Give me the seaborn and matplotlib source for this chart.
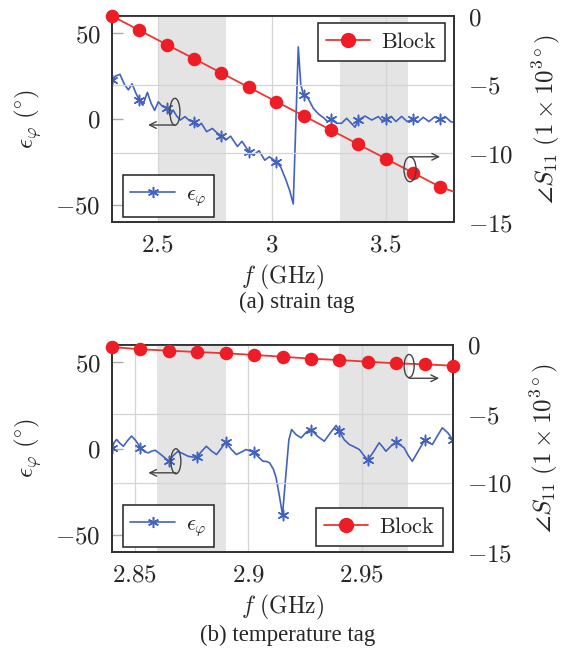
import numpy as np
import pandas as pd
import matplotlib
matplotlib.use("Agg")
import matplotlib.pyplot as plt
import seaborn as sns
from matplotlib.patches import Ellipse
from matplotlib.lines import Line2D
from matplotlib.ticker import FuncFormatter

# ---------------- data ----------------
# (a) strain tag : epsilon_phi (deg) vs f (GHz)
strain_f = [2.300, 2.315, 2.335, 2.355, 2.372, 2.388, 2.405, 2.420, 2.435, 2.455,
            2.472, 2.487, 2.503, 2.520, 2.540, 2.555, 2.568, 2.585, 2.600, 2.620,
            2.640, 2.660, 2.675, 2.692, 2.715, 2.740, 2.760, 2.780, 2.800, 2.820,
            2.850, 2.870, 2.900, 2.920, 2.945, 2.970, 2.990, 3.020, 3.040, 3.063,
            3.080, 3.095, 3.117, 3.128, 3.140, 3.160, 3.183, 3.205, 3.230, 3.245,
            3.260, 3.285, 3.307, 3.329, 3.366, 3.380, 3.410, 3.439, 3.468, 3.485,
            3.500, 3.525, 3.545, 3.570, 3.595, 3.620, 3.640, 3.665, 3.690, 3.715,
            3.740, 3.765, 3.785, 3.800]
strain_eps = [22.5, 25.0, 26.0, 20.0, 17.0, 20.5, 15.0, 11.0, 8.0, 15.5,
              9.0, 5.0, 10.0, 7.5, 6.2, 2.3, 5.2, 1.5, -0.6, 1.4,
              -1.0, -1.6, -4.5, -2.5, -7.4, -5.5, -8.0, -9.9, -12.2, -10.0,
              -16.0, -13.0, -19.0, -21.0, -18.5, -24.0, -22.0, -24.8, -28.0, -35.5,
              -42.0, -49.5, 42.0, 20.0, 14.0, 12.0, 6.2, 3.0, 0.5, -1.5,
              -0.2, -2.5, -2.5, 0.4, -4.8, -0.6, 1.7, -0.6, 1.4, -1.0,
              -0.2, 1.5, -1.5, 1.5, -1.5, -0.2, -2.0, 1.0, -1.5, 1.2,
              -0.2, 1.0, -1.5, -2.0]
strain_eps_marks = [2.30, 2.42, 2.54, 2.66, 2.78, 2.90, 3.02, 3.14, 3.26, 3.38, 3.50, 3.62, 3.74]
# angle S11 (x 1e3 deg), block reference
strain_block_f = [2.30, 2.42, 2.54, 2.66, 2.78, 2.90, 3.02, 3.14, 3.26, 3.38, 3.50, 3.62, 3.74, 3.80]
strain_block = [0.0, -1.04, -2.08, -3.11, -4.15, -5.19, -6.23, -7.26, -8.30, -9.34,
                -10.38, -11.41, -12.45, -12.8]
strain_bands = [(2.5, 2.8), (3.3, 3.6)]

# (b) temperature tag
temp_f = [2.8400, 2.8410, 2.8420, 2.8435, 2.8450, 2.8468, 2.8486, 2.8505, 2.8525, 2.8545,
          2.8560, 2.8575, 2.8590, 2.8605, 2.8620, 2.8650, 2.8670, 2.8690, 2.8712, 2.8735,
          2.8755, 2.8775, 2.8795, 2.8815, 2.8838, 2.8860, 2.8880, 2.8900, 2.8925, 2.8947,
          2.8970, 2.8990, 2.9025, 2.9045, 2.9064, 2.9080, 2.9093, 2.9110, 2.9122, 2.9137,
          2.9150, 2.9165, 2.9178, 2.9190, 2.9210, 2.9232, 2.9255, 2.9275, 2.9305, 2.9334,
          2.9360, 2.9386, 2.9400, 2.9422, 2.9444, 2.9465, 2.9488, 2.9508, 2.9525, 2.9550,
          2.9575, 2.9590, 2.9605, 2.9628, 2.9650, 2.9685, 2.9703, 2.9721, 2.9736, 2.9751,
          2.9775, 2.9792, 2.9809, 2.9830, 2.9853, 2.9878, 2.9900]
temp_eps = [0.4, 3.5, 5.2, 3.0, 1.3, 4.5, 7.2, 4.5, 0.4, -2.0,
            -2.5, -1.5, -1.0, -2.5, -4.0, -7.4, -4.0, -1.6, -3.0, -4.5,
            -5.0, -4.8, -1.5, 1.3, -1.5, -3.5, 0.0, 3.7, -0.5, -3.5,
            -2.0, -0.6, -2.2, -5.0, -7.4, -7.5, -8.3, -12.0, -17.0, -28.0,
            -38.4, -15.0, 5.0, 11.0, 8.0, 6.2, 9.5, 11.0, 7.0, 4.2,
            9.0, 13.4, 10.0, 5.0, 2.3, 1.0, -0.6, -4.0, -6.8, -2.0,
            3.3, 1.0, -1.6, 1.5, 3.7, 0.4, -4.0, -7.4, -4.0, -0.6,
            4.8, 3.5, 2.3, 7.0, 12.0, 9.0, 4.8]
temp_eps_marks = [2.84, 2.8525, 2.865, 2.8775, 2.89, 2.9025, 2.915, 2.9275, 2.94,
                  2.9525, 2.965, 2.9775, 2.99]
temp_block_f = [2.84, 2.8525, 2.865, 2.8775, 2.89, 2.9025, 2.915, 2.9275, 2.94,
                2.9525, 2.965, 2.9775, 2.99]
temp_block = [-0.15, -0.31, -0.41, -0.51, -0.60, -0.72, -0.85, -0.99, -1.09,
              -1.21, -1.33, -1.40, -1.50]
temp_bands = [(2.86, 2.89), (2.94, 2.97)]

# ---------------- style ----------------
sns.set_theme(style="white")
plt.rcParams["font.family"] = ["DejaVu Serif"]
plt.rcParams["mathtext.fontset"] = "cm"

BLUE = "#4262c0"
RED_LINE = "#f03434"
RED_MARK = "#ee1c25"
FRAME = "#333333"
GRID = "#d4d4d4"
SHADE = "#e4e4e4"
TICKFS = 18

fig = plt.figure(figsize=(5.65, 6.55), dpi=100)
W, H = 565, 655


def mathfmt(v, pos):
    return "$%g$" % v


def panel(rect_px, f, eps, eps_marks, bf, block, nblock_marks, bands, xlim, xticks,
          caption, cap_xy, eps_leg_anchor, block_leg_loc, block_leg_anchor, ell_left, ell_right,
          xlab_y):
    x0, y0, x1, y1 = rect_px
    ax1 = fig.add_axes([x0 / W, 1 - y1 / H, (x1 - x0) / W, (y1 - y0) / H])
    ax2 = ax1.twinx()
    ax2.patch.set_visible(False)

    for a, b in bands:
        ax1.axvspan(a, b, color=SHADE, lw=0, zorder=0)

    df = pd.DataFrame({"f": f, "eps": eps})
    sns.lineplot(data=df, x="f", y="eps", ax=ax1, color=BLUE, lw=1.2,
                 sort=False, estimator=None, zorder=3)
    fm = np.array(f)
    mask = np.zeros(len(f), bool)
    for m in eps_marks:
        mask |= np.isclose(fm, m, atol=1e-4)
    dm = df[mask]
    sns.scatterplot(data=dm, x="f", y="eps", ax=ax1, marker=(6, 2, 0), s=55,
                    color=BLUE, edgecolor=BLUE, linewidth=1.1, zorder=4)

    dfb = pd.DataFrame({"f": bf, "block": block})
    sns.lineplot(data=dfb, x="f", y="block", ax=ax2, color=RED_LINE, lw=1.3,
                 sort=False, estimator=None, zorder=3)
    sns.scatterplot(data=dfb.iloc[:nblock_marks], x="f", y="block", ax=ax2, s=95,
                    color=RED_MARK, edgecolor=RED_MARK, linewidth=0, zorder=4, clip_on=False)

    ax1.set_xlim(*xlim)
    ax1.set_ylim(-60, 60)
    ax2.set_ylim(-15, 0)
    ax1.set_xticks(xticks)
    ax1.set_yticks([-50, 0, 50])
    ax2.set_yticks([-15, -10, -5, 0])
    for a in (ax1, ax2):
        a.xaxis.set_major_formatter(FuncFormatter(mathfmt))
        a.yaxis.set_major_formatter(FuncFormatter(mathfmt))
        for s in a.spines.values():
            s.set_color(FRAME)
            s.set_linewidth(1.3)
    ax1.tick_params(axis="y", direction="in", length=8, width=1, color="#aaaaaa",
                    labelsize=TICKFS, pad=8, left=True)
    ax1.tick_params(axis="x", direction="in", length=0, labelsize=TICKFS, pad=8, bottom=True)
    ax2.tick_params(axis="y", direction="in", length=0, labelsize=TICKFS, pad=10, right=True)
    ax1.grid(axis="x", color=GRID, lw=0.9, zorder=1)
    ax1.grid(axis="y", visible=False)
    ax2.grid(axis="y", color=GRID, lw=0.9)
    ax2.grid(axis="x", visible=False)
    ax1.set_axisbelow(True)

    ax1.set_xlabel(r"$f\ (\mathrm{GHz})$", fontsize=17)
    ax1.xaxis.set_label_coords(0.5, xlab_y)
    ax1.set_ylabel(r"$\epsilon_\varphi\ (\!^\circ\!)$", fontsize=18)
    ax1.yaxis.set_label_coords(-0.20, 0.5)
    ax2.set_ylabel(r"$\angle S_{11}\ (1\times 10^{3\circ})$", fontsize=18, rotation=90)
    ax2.yaxis.set_label_coords(1.222, 0.5)

    h_eps = Line2D([], [], color=BLUE, lw=1.2, marker=(6, 2, 0), markersize=8,
                   markeredgewidth=1.1)
    h_blk = Line2D([], [], color=RED_LINE, lw=1.3, marker="o", markersize=10,
                   markerfacecolor=RED_MARK, markeredgecolor=RED_MARK)
    leg_kw = dict(frameon=True, fancybox=False, framealpha=1, edgecolor="#222222",
                  fontsize=16, handlelength=2.0, borderaxespad=0, borderpad=0.35,
                  handletextpad=0.5)
    l1 = ax1.legend([h_eps], [r"$\epsilon_\varphi$"], loc="lower left",
                    bbox_to_anchor=eps_leg_anchor, **leg_kw)
    l1.get_frame().set_linewidth(1.1)
    l1.set_zorder(10)
    l2 = ax2.legend([h_blk], [r"$\mathrm{Block}$"], loc=block_leg_loc,
                    bbox_to_anchor=block_leg_anchor, **leg_kw)
    l2.get_frame().set_linewidth(1.1)

    # ellipse + arrow annotations
    for ax, (cx, cy, w, h, ay, ax_end) in ((ax1, ell_left), (ax2, ell_right)):
        ax.add_patch(Ellipse((cx, cy), w, h, fill=False, ec="#444444", lw=1.0, zorder=6))
        ax.annotate("", xy=(ax_end, ay), xytext=(cx, ay),
                    arrowprops=dict(arrowstyle="->", color="#444444", lw=1.0,
                                    shrinkA=0, shrinkB=0), zorder=6)

    fig.text(cap_xy[0] / W, 1 - cap_xy[1] / H, caption, ha="center", va="center",
             fontsize=16.5, family="Liberation Serif")
    return ax1, ax2


panel((112, 16, 454, 222), strain_f, strain_eps, strain_eps_marks,
      strain_block_f, strain_block, 13, strain_bands, (2.3, 3.8), [2.5, 3.0, 3.5],
      "(a) strain tag", (297, 302), (0.031, 0.026), "upper right", (0.974, 0.965),
      (2.576, 4.2, 0.044, 15.7, -3.5, 2.458),
      (3.607, -11.16, 0.053, 1.82, -10.25, 3.739), -0.198)

panel((112, 345, 453, 552), temp_f, temp_eps, temp_eps_marks,
      temp_block_f, temp_block, 13, temp_bands, (2.84, 2.99), [2.85, 2.90, 2.95],
      "(b) temperature tag", (288, 635), (0.031, 0.026), "lower right", (0.971, 0.029),
      (2.8681, -7.4, 0.0044, 14.5, -14.1, 2.856),
      (2.9707, -1.52, 0.0044, 1.67, -2.41, 2.9839), -0.200)

fig.savefig("out.png", dpi=100)
